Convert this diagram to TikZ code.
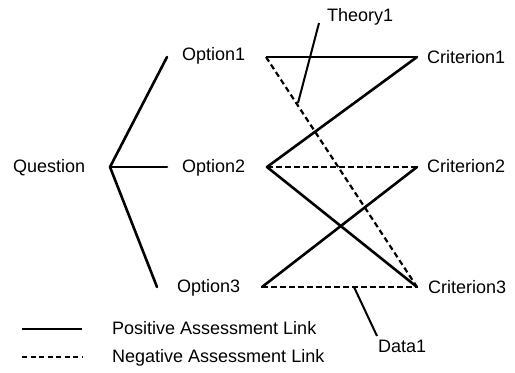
\documentclass[tikz,border=0pt]{standalone}
\usepackage{fontspec}
\setmainfont{Liberation Sans}
\begin{document}
\begin{tikzpicture}[x=1bp,y=-1bp,
  lbl/.style={anchor=base west,inner sep=0pt,font=\fontsize{18bp}{20bp}\selectfont},
  poslink/.style={line width=2.6bp,line cap=round,line join=round},
  posthin/.style={line width=1.6bp},
  neglink/.style={line width=2.2bp,dash pattern=on 5.5bp off 3.5bp},
  pinline/.style={line width=2bp}]
\useasboundingbox (0,0) rectangle (515,372);
% labels
\node[lbl] (q) at (13,172) {Question};
\node[lbl] (o1) at (182,60) {Option1};
\node[lbl] (o2) at (182,172) {Option2};
\node[lbl] (o3) at (177,292) {Option3};
\node[lbl] (c1) at (427,63) {Criterion1};
\node[lbl] (c2) at (427,172) {Criterion2};
\node[lbl] (c3) at (428,293) {Criterion3};
\node[lbl] (th) at (327,21) {Theory1};
\node[lbl] (da) at (378,352) {Data1};
\node[lbl] (lp) at (112,334) {Positive Assessment Link};
\node[lbl] (ln) at (112,362) {Negative Assessment Link};
% link end points
\coordinate (qv) at (110,167);
\coordinate (o1l) at (167,57);
\coordinate (o2l) at (167,167);
\coordinate (o3l) at (157,287);
\coordinate (o1r) at (266,57);
\coordinate (o2r) at (267,167);
\coordinate (o3r) at (262,287);
\coordinate (c1l) at (417,57);
\coordinate (c2l) at (417,167);
\coordinate (c3l) at (417,287);
\coordinate (tha) at (319,23);
\coordinate (thb) at (298,103);
\coordinate (daa) at (354,287);
\coordinate (dab) at (377,336);
\coordinate (lps) at (22,329);
\coordinate (lpe) at (82,329);
\coordinate (lns) at (22,357);
\coordinate (lne) at (82,357);
% question fan
\draw[poslink] (o1l) -- (qv) -- (o3l);
\draw[poslink] (qv) -- (o2l);
% assessment links
\draw[posthin] (o1r) -- (c1l);
\draw[poslink] (c1l) -- (o2r) -- (c3l);
\draw[poslink] (o3r) -- (c2l);
\draw[neglink] (o1r) -- (c3l);
\draw[neglink] (o2r) -- (c2l);
\draw[neglink] (o3r) -- (c3l);
% theory and data pins
\draw[pinline] (tha) -- (thb);
\draw[pinline] (daa) -- (dab);
% legend
\draw[line width=2bp] (lps) -- (lpe);
\draw[line width=2bp,dash pattern=on 5bp off 3.5bp] (lns) -- (lne);
\end{tikzpicture}
\end{document}
